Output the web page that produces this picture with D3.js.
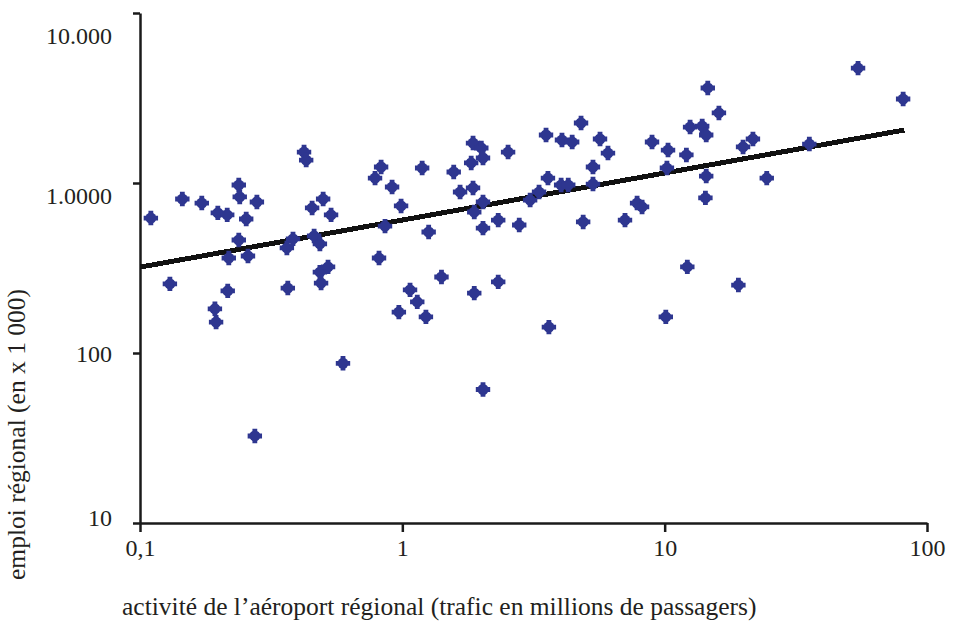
<!DOCTYPE html>
<html>
<head>
<meta charset="utf-8">
<script src="https://cdn.jsdelivr.net/npm/d3@7"></script>
<style>
  body { margin: 0; background: #fff; }
  text { font-family: "Liberation Serif", "DejaVu Serif", serif; fill: #231f20; }
  .axis path, .axis line { stroke: #1a1a1a; stroke-width: 2.5; }
  .axis text { font-size: 24px; }
  .trend { stroke: #111; stroke-width: 5; fill: none; shape-rendering: crispEdges; }
  .pt { fill: #2e3690; }
</style>
</head>
<body>
<svg id="chart" width="953" height="625"></svg>
<script>
// trafic (millions de passagers) / emploi (x 1 000)
var trafic = [0.11, 0.13, 0.145, 0.172, 0.193, 0.195, 0.198, 0.215, 0.216, 0.218,
  0.238, 0.24, 0.238, 0.254, 0.258, 0.279, 0.274, 0.366, 0.363, 0.383,
  0.422, 0.43, 0.453, 0.461, 0.485, 0.485, 0.521, 0.49, 0.499, 0.535,
  0.594, 0.815, 0.787, 0.83, 0.914, 0.859, 0.97, 0.989, 1.07, 1.14,
  1.19, 1.23, 1.26, 1.41, 1.57, 1.66, 1.86, 1.86, 2.0, 2.03,
  1.83, 1.88, 2.03, 1.88, 2.03, 2.03, 2.32, 2.32, 2.53, 2.79,
  3.07, 3.32, 3.53, 3.59, 3.62, 4.06, 4.44, 4.03, 4.29, 4.8,
  4.89, 5.33, 5.33, 5.67, 6.08, 7.06, 7.85, 8.2, 8.95, 10.1,
  10.3, 10.2, 12.1, 12.2, 12.5, 13.9, 14.4, 14.3, 14.4, 14.6,
  16.1, 19.1, 19.9, 21.7, 24.5, 35.6, 54.6, 81.1];
var emploi = [622, 255, 805, 762, 182, 152, 667, 649, 232, 362,
  973, 828, 462, 614, 372, 773, 32.5, 241, 415, 469,
  1521, 1365, 713, 488, 438, 299, 321, 258, 805, 649,
  87, 362, 1069, 1242, 947, 558, 174, 733, 235, 200,
  1225, 163, 515, 280, 1161, 885, 935, 1718, 1607, 1403,
  1312, 225, 773, 675, 61, 543, 262, 605, 1521, 566,
  794, 885, 1916, 1069, 142, 1790, 1742, 973, 973, 2254,
  590, 1242, 986, 1815, 1500, 605, 762, 723, 1742, 163,
  1563, 1225, 1462, 321, 2134, 2163, 1916, 817, 1099, 3622,
  2582, 251, 1629, 1815, 1069, 1695, 4742, 3119];

var trendX = [0.1, 82];
var trendY = [320, 2050];

var xTicks = [0.1, 1, 10, 100];
var xTickLabels = ["0,1", "1", "10", "100"];
var yTicks = [10, 100, 1000, 10000];
var yTickLabels = ["10", "100", "1.0000", "10.000"];

var svg = d3.select("#chart");

var x = d3.scaleLog().domain([0.1, 100]).range([140, 927]);
var y = d3.scaleLog().domain([10, 10000]).range([523, 13]);

// axes
var xAxis = svg.append("g")
    .attr("class", "axis")
    .attr("transform", "translate(0,523)")
    .call(d3.axisBottom(x)
        .tickValues(xTicks)
        .tickFormat((d, i) => xTickLabels[i])
        .tickSize(9)
        .tickSizeOuter(0)
        .tickPadding(7));

var yAxis = svg.append("g")
    .attr("class", "axis")
    .attr("transform", "translate(140,0)")
    .call(d3.axisLeft(y)
        .tickValues(yTicks)
        .tickFormat((d, i) => yTickLabels[i])
        .tickSize(7)
        .tickSizeOuter(0)
        .tickPadding(21));

// labels in the scan sit a bit off their ticks
var yLabelShift = [-6, 0, 12, 22];
yAxis.selectAll(".tick text").attr("dy", (d, i) => (yLabelShift[i] + 8) + "px");

// trend line
var trend = trendX.map((v, i) => [v, trendY[i]]);
svg.append("path")
    .datum(trend)
    .attr("class", "trend")
    .attr("d", d3.line().x(d => x(d[0])).y(d => y(d[1])));

// points
var pts = trafic.map((v, i) => ({x: v, y: emploi[i]}));
var g = svg.append("g");
var node = g.selectAll("g.p")
    .data(pts)
    .enter().append("g")
    .attr("class", "p")
    .attr("transform", d => "translate(" + x(d.x) + "," + y(d.y) + ")");
node.append("circle").attr("class", "pt").attr("r", 5.5);
node.append("path").attr("class", "pt").attr("d", d3.symbol().type(d3.symbolCross).size(115));

// titles
svg.append("text")
    .attr("x", 122)
    .attr("y", 615)
    .style("font-size", "25.5px")
    .text("activité de l’aéroport régional (trafic en millions de passagers)");

svg.append("text")
    .attr("transform", "translate(25,580) rotate(-90)")
    .style("font-size", "25.5px")
    .text("emploi régional (en x 1 000)");
</script>
</body>
</html>
